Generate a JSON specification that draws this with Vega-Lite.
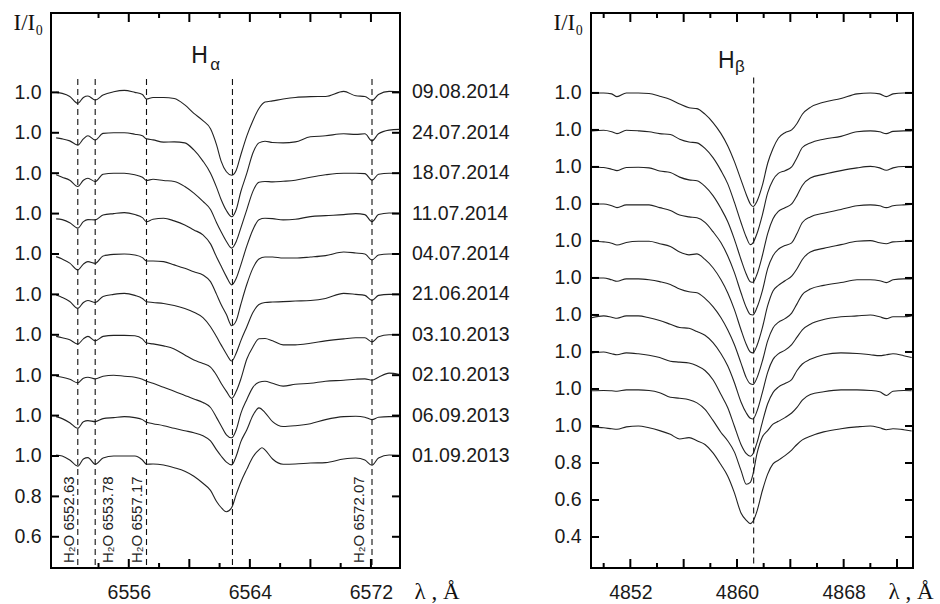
{
  "$schema": "https://vega.github.io/schema/vega-lite/v6.json",
  "background": "white",
  "padding": {"left": 12, "top": 10, "right": 2, "bottom": 2},
  "autosize": {"type": "pad"},
  "spacing": 191,
  "bounds": "flush",
  "datasets": {
    "ha": [
      {"k":9,"w":6551.2,"v":2.8},{"k":9,"w":6551.6,"v":2.795},{"k":9,"w":6552.1,"v":2.78},{"k":9,"w":6552.63,"v":2.746},{"k":9,"w":6553.0,"v":2.775},{"k":9,"w":6553.3,"v":2.782},{"k":9,"w":6553.78,"v":2.762},{"k":9,"w":6554.3,"v":2.787},{"k":9,"w":6555.0,"v":2.803},{"k":9,"w":6555.7,"v":2.81},{"k":9,"w":6556.4,"v":2.8},{"k":9,"w":6556.9,"v":2.79},{"k":9,"w":6557.17,"v":2.767},{"k":9,"w":6557.6,"v":2.775},{"k":9,"w":6558.3,"v":2.775},{"k":9,"w":6559.0,"v":2.77},{"k":9,"w":6559.7,"v":2.738},{"k":9,"w":6560.3,"v":2.696},{"k":9,"w":6560.9,"v":2.66},{"k":9,"w":6561.4,"v":2.62},{"k":9,"w":6561.8,"v":2.54},{"k":9,"w":6562.1,"v":2.46},{"k":9,"w":6562.45,"v":2.407},{"k":9,"w":6562.8,"v":2.39},{"k":9,"w":6563.1,"v":2.415},{"k":9,"w":6563.4,"v":2.49},{"k":9,"w":6563.8,"v":2.585},{"k":9,"w":6564.2,"v":2.66},{"k":9,"w":6564.6,"v":2.72},{"k":9,"w":6565.0,"v":2.752},{"k":9,"w":6565.5,"v":2.758},{"k":9,"w":6566.2,"v":2.767},{"k":9,"w":6567.0,"v":2.775},{"k":9,"w":6568.0,"v":2.779},{"k":9,"w":6569.0,"v":2.78},{"k":9,"w":6570.2,"v":2.805},{"k":9,"w":6571.0,"v":2.783},{"k":9,"w":6571.6,"v":2.78},{"k":9,"w":6572.07,"v":2.76},{"k":9,"w":6572.5,"v":2.79},{"k":9,"w":6573.2,"v":2.805},{"k":9,"w":6573.9,"v":2.803},
      {"k":8,"w":6551.2,"v":2.575},{"k":8,"w":6551.6,"v":2.57},{"k":8,"w":6552.1,"v":2.56},{"k":8,"w":6552.63,"v":2.539},{"k":8,"w":6553.0,"v":2.57},{"k":8,"w":6553.3,"v":2.585},{"k":8,"w":6553.78,"v":2.564},{"k":8,"w":6554.3,"v":2.597},{"k":8,"w":6555.0,"v":2.6},{"k":8,"w":6555.7,"v":2.6},{"k":8,"w":6556.4,"v":2.593},{"k":8,"w":6556.9,"v":2.585},{"k":8,"w":6557.17,"v":2.57},{"k":8,"w":6557.6,"v":2.565},{"k":8,"w":6558.3,"v":2.554},{"k":8,"w":6559.0,"v":2.555},{"k":8,"w":6559.7,"v":2.55},{"k":8,"w":6560.3,"v":2.515},{"k":8,"w":6560.9,"v":2.46},{"k":8,"w":6561.4,"v":2.4},{"k":8,"w":6561.8,"v":2.33},{"k":8,"w":6562.1,"v":2.27},{"k":8,"w":6562.45,"v":2.215},{"k":8,"w":6562.8,"v":2.184},{"k":8,"w":6563.1,"v":2.22},{"k":8,"w":6563.4,"v":2.308},{"k":8,"w":6563.8,"v":2.4},{"k":8,"w":6564.2,"v":2.5},{"k":8,"w":6564.6,"v":2.55},{"k":8,"w":6565.0,"v":2.558},{"k":8,"w":6565.5,"v":2.552},{"k":8,"w":6566.2,"v":2.55},{"k":8,"w":6567.0,"v":2.555},{"k":8,"w":6568.0,"v":2.58},{"k":8,"w":6569.0,"v":2.585},{"k":8,"w":6570.2,"v":2.595},{"k":8,"w":6571.0,"v":2.592},{"k":8,"w":6571.6,"v":2.595},{"k":8,"w":6572.07,"v":2.56},{"k":8,"w":6572.5,"v":2.595},{"k":8,"w":6573.2,"v":2.613},{"k":8,"w":6573.9,"v":2.617},
      {"k":7,"w":6551.2,"v":2.392},{"k":7,"w":6551.6,"v":2.38},{"k":7,"w":6552.1,"v":2.365},{"k":7,"w":6552.63,"v":2.334},{"k":7,"w":6553.0,"v":2.365},{"k":7,"w":6553.3,"v":2.375},{"k":7,"w":6553.78,"v":2.359},{"k":7,"w":6554.3,"v":2.395},{"k":7,"w":6555.0,"v":2.4},{"k":7,"w":6555.7,"v":2.4},{"k":7,"w":6556.4,"v":2.392},{"k":7,"w":6556.9,"v":2.38},{"k":7,"w":6557.17,"v":2.364},{"k":7,"w":6557.6,"v":2.37},{"k":7,"w":6558.3,"v":2.364},{"k":7,"w":6559.0,"v":2.359},{"k":7,"w":6559.7,"v":2.334},{"k":7,"w":6560.3,"v":2.301},{"k":7,"w":6560.9,"v":2.26},{"k":7,"w":6561.4,"v":2.22},{"k":7,"w":6561.8,"v":2.155},{"k":7,"w":6562.1,"v":2.11},{"k":7,"w":6562.45,"v":2.062},{"k":7,"w":6562.8,"v":2.029},{"k":7,"w":6563.1,"v":2.062},{"k":7,"w":6563.4,"v":2.128},{"k":7,"w":6563.8,"v":2.22},{"k":7,"w":6564.2,"v":2.31},{"k":7,"w":6564.6,"v":2.355},{"k":7,"w":6565.0,"v":2.359},{"k":7,"w":6565.5,"v":2.357},{"k":7,"w":6566.2,"v":2.36},{"k":7,"w":6567.0,"v":2.365},{"k":7,"w":6568.0,"v":2.38},{"k":7,"w":6569.0,"v":2.392},{"k":7,"w":6570.2,"v":2.4},{"k":7,"w":6571.0,"v":2.4},{"k":7,"w":6571.6,"v":2.398},{"k":7,"w":6572.07,"v":2.365},{"k":7,"w":6572.5,"v":2.395},{"k":7,"w":6573.2,"v":2.4},{"k":7,"w":6573.9,"v":2.4},
      {"k":6,"w":6551.2,"v":2.174},{"k":6,"w":6551.6,"v":2.17},{"k":6,"w":6552.1,"v":2.155},{"k":6,"w":6552.63,"v":2.128},{"k":6,"w":6553.0,"v":2.16},{"k":6,"w":6553.3,"v":2.17},{"k":6,"w":6553.78,"v":2.169},{"k":6,"w":6554.3,"v":2.193},{"k":6,"w":6555.0,"v":2.2},{"k":6,"w":6555.7,"v":2.205},{"k":6,"w":6556.4,"v":2.195},{"k":6,"w":6556.9,"v":2.18},{"k":6,"w":6557.17,"v":2.16},{"k":6,"w":6557.6,"v":2.172},{"k":6,"w":6558.3,"v":2.177},{"k":6,"w":6559.0,"v":2.164},{"k":6,"w":6559.7,"v":2.144},{"k":6,"w":6560.3,"v":2.119},{"k":6,"w":6560.9,"v":2.095},{"k":6,"w":6561.4,"v":2.05},{"k":6,"w":6561.8,"v":1.985},{"k":6,"w":6562.1,"v":1.94},{"k":6,"w":6562.45,"v":1.888},{"k":6,"w":6562.8,"v":1.847},{"k":6,"w":6563.1,"v":1.88},{"k":6,"w":6563.4,"v":1.945},{"k":6,"w":6563.8,"v":2.04},{"k":6,"w":6564.2,"v":2.12},{"k":6,"w":6564.6,"v":2.17},{"k":6,"w":6565.0,"v":2.177},{"k":6,"w":6565.5,"v":2.175},{"k":6,"w":6566.2,"v":2.169},{"k":6,"w":6567.0,"v":2.172},{"k":6,"w":6568.0,"v":2.185},{"k":6,"w":6569.0,"v":2.19},{"k":6,"w":6570.2,"v":2.195},{"k":6,"w":6571.0,"v":2.2},{"k":6,"w":6571.6,"v":2.195},{"k":6,"w":6572.07,"v":2.16},{"k":6,"w":6572.5,"v":2.195},{"k":6,"w":6573.2,"v":2.203},{"k":6,"w":6573.9,"v":2.202},
      {"k":5,"w":6551.2,"v":1.987},{"k":5,"w":6551.6,"v":1.975},{"k":5,"w":6552.1,"v":1.955},{"k":5,"w":6552.63,"v":1.921},{"k":5,"w":6553.0,"v":1.95},{"k":5,"w":6553.3,"v":1.962},{"k":5,"w":6553.78,"v":1.954},{"k":5,"w":6554.3,"v":1.99},{"k":5,"w":6555.0,"v":1.998},{"k":5,"w":6555.7,"v":2.0},{"k":5,"w":6556.4,"v":1.995},{"k":5,"w":6556.9,"v":1.982},{"k":5,"w":6557.17,"v":1.965},{"k":5,"w":6557.6,"v":1.965},{"k":5,"w":6558.3,"v":1.962},{"k":5,"w":6559.0,"v":1.946},{"k":5,"w":6559.7,"v":1.929},{"k":5,"w":6560.3,"v":1.912},{"k":5,"w":6560.9,"v":1.896},{"k":5,"w":6561.4,"v":1.863},{"k":5,"w":6561.8,"v":1.8},{"k":5,"w":6562.1,"v":1.75},{"k":5,"w":6562.45,"v":1.7},{"k":5,"w":6562.8,"v":1.645},{"k":5,"w":6563.1,"v":1.67},{"k":5,"w":6563.4,"v":1.75},{"k":5,"w":6563.8,"v":1.85},{"k":5,"w":6564.2,"v":1.93},{"k":5,"w":6564.6,"v":1.975},{"k":5,"w":6565.0,"v":1.985},{"k":5,"w":6565.5,"v":1.985},{"k":5,"w":6566.2,"v":1.98},{"k":5,"w":6567.0,"v":1.98},{"k":5,"w":6568.0,"v":1.985},{"k":5,"w":6569.0,"v":1.992},{"k":5,"w":6570.2,"v":2.01},{"k":5,"w":6571.0,"v":2.005},{"k":5,"w":6571.6,"v":2.0},{"k":5,"w":6572.07,"v":1.97},{"k":5,"w":6572.5,"v":1.995},{"k":5,"w":6573.2,"v":2.0},{"k":5,"w":6573.9,"v":2.0},
      {"k":4,"w":6551.2,"v":1.797},{"k":4,"w":6551.6,"v":1.785},{"k":4,"w":6552.1,"v":1.765},{"k":4,"w":6552.63,"v":1.731},{"k":4,"w":6553.0,"v":1.76},{"k":4,"w":6553.3,"v":1.77},{"k":4,"w":6553.78,"v":1.76},{"k":4,"w":6554.3,"v":1.79},{"k":4,"w":6555.0,"v":1.8},{"k":4,"w":6555.7,"v":1.805},{"k":4,"w":6556.4,"v":1.795},{"k":4,"w":6556.9,"v":1.78},{"k":4,"w":6557.17,"v":1.764},{"k":4,"w":6557.6,"v":1.76},{"k":4,"w":6558.3,"v":1.755},{"k":4,"w":6559.0,"v":1.745},{"k":4,"w":6559.7,"v":1.73},{"k":4,"w":6560.3,"v":1.712},{"k":4,"w":6560.9,"v":1.685},{"k":4,"w":6561.4,"v":1.64},{"k":4,"w":6561.8,"v":1.59},{"k":4,"w":6562.1,"v":1.55},{"k":4,"w":6562.45,"v":1.505},{"k":4,"w":6562.8,"v":1.47},{"k":4,"w":6563.1,"v":1.51},{"k":4,"w":6563.4,"v":1.57},{"k":4,"w":6563.8,"v":1.64},{"k":4,"w":6564.2,"v":1.71},{"k":4,"w":6564.6,"v":1.75},{"k":4,"w":6565.0,"v":1.76},{"k":4,"w":6565.5,"v":1.762},{"k":4,"w":6566.2,"v":1.764},{"k":4,"w":6567.0,"v":1.767},{"k":4,"w":6568.0,"v":1.77},{"k":4,"w":6569.0,"v":1.78},{"k":4,"w":6570.2,"v":1.805},{"k":4,"w":6571.0,"v":1.8},{"k":4,"w":6571.6,"v":1.795},{"k":4,"w":6572.07,"v":1.77},{"k":4,"w":6572.5,"v":1.795},{"k":4,"w":6573.2,"v":1.8},{"k":4,"w":6573.9,"v":1.8},
      {"k":3,"w":6551.2,"v":1.592},{"k":3,"w":6551.6,"v":1.585},{"k":3,"w":6552.1,"v":1.575},{"k":3,"w":6552.63,"v":1.554},{"k":3,"w":6553.0,"v":1.58},{"k":3,"w":6553.3,"v":1.592},{"k":3,"w":6553.78,"v":1.57},{"k":3,"w":6554.3,"v":1.592},{"k":3,"w":6555.0,"v":1.597},{"k":3,"w":6555.7,"v":1.597},{"k":3,"w":6556.4,"v":1.595},{"k":3,"w":6556.9,"v":1.58},{"k":3,"w":6557.17,"v":1.559},{"k":3,"w":6557.6,"v":1.555},{"k":3,"w":6558.3,"v":1.545},{"k":3,"w":6559.0,"v":1.53},{"k":3,"w":6559.7,"v":1.5},{"k":3,"w":6560.3,"v":1.475},{"k":3,"w":6560.9,"v":1.458},{"k":3,"w":6561.4,"v":1.44},{"k":3,"w":6561.8,"v":1.4},{"k":3,"w":6562.1,"v":1.36},{"k":3,"w":6562.45,"v":1.32},{"k":3,"w":6562.8,"v":1.285},{"k":3,"w":6563.1,"v":1.32},{"k":3,"w":6563.4,"v":1.38},{"k":3,"w":6563.8,"v":1.48},{"k":3,"w":6564.2,"v":1.54},{"k":3,"w":6564.6,"v":1.58},{"k":3,"w":6565.0,"v":1.582},{"k":3,"w":6565.5,"v":1.57},{"k":3,"w":6566.2,"v":1.55},{"k":3,"w":6567.0,"v":1.55},{"k":3,"w":6568.0,"v":1.558},{"k":3,"w":6569.0,"v":1.57},{"k":3,"w":6570.2,"v":1.58},{"k":3,"w":6571.0,"v":1.585},{"k":3,"w":6571.6,"v":1.585},{"k":3,"w":6572.07,"v":1.565},{"k":3,"w":6572.5,"v":1.59},{"k":3,"w":6573.2,"v":1.6},{"k":3,"w":6573.9,"v":1.6},
      {"k":2,"w":6551.2,"v":1.395},{"k":2,"w":6551.6,"v":1.39},{"k":2,"w":6552.1,"v":1.38},{"k":2,"w":6552.63,"v":1.362},{"k":2,"w":6553.0,"v":1.385},{"k":2,"w":6553.3,"v":1.39},{"k":2,"w":6553.78,"v":1.382},{"k":2,"w":6554.3,"v":1.395},{"k":2,"w":6555.0,"v":1.4},{"k":2,"w":6555.7,"v":1.395},{"k":2,"w":6556.4,"v":1.39},{"k":2,"w":6556.9,"v":1.38},{"k":2,"w":6557.17,"v":1.37},{"k":2,"w":6557.6,"v":1.36},{"k":2,"w":6558.3,"v":1.34},{"k":2,"w":6559.0,"v":1.321},{"k":2,"w":6559.7,"v":1.3},{"k":2,"w":6560.3,"v":1.282},{"k":2,"w":6560.9,"v":1.265},{"k":2,"w":6561.4,"v":1.24},{"k":2,"w":6561.8,"v":1.19},{"k":2,"w":6562.1,"v":1.15},{"k":2,"w":6562.45,"v":1.105},{"k":2,"w":6562.8,"v":1.09},{"k":2,"w":6563.1,"v":1.13},{"k":2,"w":6563.4,"v":1.21},{"k":2,"w":6563.8,"v":1.28},{"k":2,"w":6564.2,"v":1.34},{"k":2,"w":6564.6,"v":1.365},{"k":2,"w":6565.0,"v":1.37},{"k":2,"w":6565.5,"v":1.36},{"k":2,"w":6566.2,"v":1.346},{"k":2,"w":6567.0,"v":1.355},{"k":2,"w":6568.0,"v":1.36},{"k":2,"w":6569.0,"v":1.37},{"k":2,"w":6570.2,"v":1.375},{"k":2,"w":6571.0,"v":1.38},{"k":2,"w":6571.6,"v":1.382},{"k":2,"w":6572.07,"v":1.375},{"k":2,"w":6572.5,"v":1.39},{"k":2,"w":6573.2,"v":1.41},{"k":2,"w":6573.9,"v":1.403},
      {"k":1,"w":6551.2,"v":1.195},{"k":1,"w":6551.6,"v":1.185},{"k":1,"w":6552.1,"v":1.165},{"k":1,"w":6552.63,"v":1.137},{"k":1,"w":6553.0,"v":1.17},{"k":1,"w":6553.3,"v":1.175},{"k":1,"w":6553.78,"v":1.17},{"k":1,"w":6554.3,"v":1.185},{"k":1,"w":6555.0,"v":1.19},{"k":1,"w":6555.7,"v":1.195},{"k":1,"w":6556.4,"v":1.19},{"k":1,"w":6556.9,"v":1.18},{"k":1,"w":6557.17,"v":1.167},{"k":1,"w":6557.6,"v":1.16},{"k":1,"w":6558.3,"v":1.15},{"k":1,"w":6559.0,"v":1.137},{"k":1,"w":6559.7,"v":1.125},{"k":1,"w":6560.3,"v":1.115},{"k":1,"w":6560.9,"v":1.1},{"k":1,"w":6561.4,"v":1.075},{"k":1,"w":6561.8,"v":1.03},{"k":1,"w":6562.1,"v":1.0},{"k":1,"w":6562.45,"v":0.97},{"k":1,"w":6562.8,"v":0.956},{"k":1,"w":6563.1,"v":1.0},{"k":1,"w":6563.4,"v":1.07},{"k":1,"w":6563.8,"v":1.13},{"k":1,"w":6564.2,"v":1.2},{"k":1,"w":6564.6,"v":1.238},{"k":1,"w":6565.0,"v":1.215},{"k":1,"w":6565.5,"v":1.17},{"k":1,"w":6566.2,"v":1.146},{"k":1,"w":6567.0,"v":1.15},{"k":1,"w":6568.0,"v":1.16},{"k":1,"w":6569.0,"v":1.18},{"k":1,"w":6570.2,"v":1.195},{"k":1,"w":6571.0,"v":1.197},{"k":1,"w":6571.6,"v":1.192},{"k":1,"w":6572.07,"v":1.18},{"k":1,"w":6572.5,"v":1.192},{"k":1,"w":6573.2,"v":1.195},{"k":1,"w":6573.9,"v":1.195},
      {"k":0,"w":6551.2,"v":1.005},{"k":0,"w":6551.6,"v":1.0},{"k":0,"w":6552.1,"v":0.98},{"k":0,"w":6552.63,"v":0.95},{"k":0,"w":6553.0,"v":0.985},{"k":0,"w":6553.3,"v":0.992},{"k":0,"w":6553.78,"v":0.959},{"k":0,"w":6554.3,"v":0.99},{"k":0,"w":6555.0,"v":1.0},{"k":0,"w":6555.7,"v":1.0},{"k":0,"w":6556.4,"v":1.0},{"k":0,"w":6556.9,"v":0.98},{"k":0,"w":6557.17,"v":0.959},{"k":0,"w":6557.6,"v":0.96},{"k":0,"w":6558.3,"v":0.955},{"k":0,"w":6559.0,"v":0.942},{"k":0,"w":6559.7,"v":0.925},{"k":0,"w":6560.3,"v":0.9},{"k":0,"w":6560.9,"v":0.865},{"k":0,"w":6561.4,"v":0.83},{"k":0,"w":6561.8,"v":0.775},{"k":0,"w":6562.1,"v":0.745},{"k":0,"w":6562.45,"v":0.724},{"k":0,"w":6562.8,"v":0.745},{"k":0,"w":6563.1,"v":0.81},{"k":0,"w":6563.4,"v":0.87},{"k":0,"w":6563.8,"v":0.935},{"k":0,"w":6564.2,"v":0.995},{"k":0,"w":6564.6,"v":1.03},{"k":0,"w":6564.8,"v":1.041},{"k":0,"w":6565.0,"v":1.03},{"k":0,"w":6565.5,"v":0.985},{"k":0,"w":6566.2,"v":0.959},{"k":0,"w":6567.0,"v":0.96},{"k":0,"w":6568.0,"v":0.965},{"k":0,"w":6569.0,"v":0.967},{"k":0,"w":6570.2,"v":0.985},{"k":0,"w":6571.0,"v":0.99},{"k":0,"w":6571.6,"v":0.98},{"k":0,"w":6572.07,"v":0.954},{"k":0,"w":6572.5,"v":0.99},{"k":0,"w":6573.2,"v":1.005},{"k":0,"w":6573.9,"v":1.003}
    ],
    "hb": [
      {"k":9,"w":4849.1,"v":2.8},{"k":9,"w":4850.0,"v":2.8},{"k":9,"w":4850.6,"v":2.795},{"k":9,"w":4851.0,"v":2.78},{"k":9,"w":4851.7,"v":2.8},{"k":9,"w":4852.6,"v":2.8},{"k":9,"w":4853.4,"v":2.797},{"k":9,"w":4854.2,"v":2.782},{"k":9,"w":4855.0,"v":2.765},{"k":9,"w":4855.7,"v":2.74},{"k":9,"w":4856.4,"v":2.72},{"k":9,"w":4857.0,"v":2.715},{"k":9,"w":4857.6,"v":2.685},{"k":9,"w":4858.2,"v":2.64},{"k":9,"w":4858.8,"v":2.58},{"k":9,"w":4859.3,"v":2.515},{"k":9,"w":4859.8,"v":2.43},{"k":9,"w":4860.3,"v":2.33},{"k":9,"w":4860.7,"v":2.25},{"k":9,"w":4861.0,"v":2.2},{"k":9,"w":4861.2,"v":2.186},{"k":9,"w":4861.5,"v":2.215},{"k":9,"w":4861.9,"v":2.3},{"k":9,"w":4862.3,"v":2.42},{"k":9,"w":4862.7,"v":2.5},{"k":9,"w":4863.1,"v":2.555},{"k":9,"w":4863.6,"v":2.585},{"k":9,"w":4864.1,"v":2.6},{"k":9,"w":4864.5,"v":2.635},{"k":9,"w":4864.9,"v":2.685},{"k":9,"w":4865.5,"v":2.722},{"k":9,"w":4866.5,"v":2.75},{"k":9,"w":4867.8,"v":2.77},{"k":9,"w":4869.0,"v":2.795},{"k":9,"w":4870.0,"v":2.8},{"k":9,"w":4870.7,"v":2.795},{"k":9,"w":4871.2,"v":2.78},{"k":9,"w":4871.7,"v":2.795},{"k":9,"w":4872.5,"v":2.8},{"k":9,"w":4873.1,"v":2.8},
      {"k":8,"w":4849.1,"v":2.595},{"k":8,"w":4850.0,"v":2.598},{"k":8,"w":4850.6,"v":2.59},{"k":8,"w":4851.0,"v":2.58},{"k":8,"w":4851.7,"v":2.598},{"k":8,"w":4852.6,"v":2.595},{"k":8,"w":4853.4,"v":2.59},{"k":8,"w":4854.2,"v":2.58},{"k":8,"w":4855.0,"v":2.575},{"k":8,"w":4855.7,"v":2.55},{"k":8,"w":4856.4,"v":2.535},{"k":8,"w":4857.0,"v":2.53},{"k":8,"w":4857.6,"v":2.5},{"k":8,"w":4858.2,"v":2.45},{"k":8,"w":4858.8,"v":2.38},{"k":8,"w":4859.3,"v":2.31},{"k":8,"w":4859.8,"v":2.21},{"k":8,"w":4860.3,"v":2.1},{"k":8,"w":4860.7,"v":2.02},{"k":8,"w":4861.0,"v":1.98},{"k":8,"w":4861.2,"v":1.99},{"k":8,"w":4861.5,"v":2.04},{"k":8,"w":4861.9,"v":2.14},{"k":8,"w":4862.3,"v":2.26},{"k":8,"w":4862.7,"v":2.33},{"k":8,"w":4863.1,"v":2.365},{"k":8,"w":4863.6,"v":2.38},{"k":8,"w":4864.1,"v":2.4},{"k":8,"w":4864.5,"v":2.45},{"k":8,"w":4864.9,"v":2.505},{"k":8,"w":4865.5,"v":2.53},{"k":8,"w":4866.5,"v":2.55},{"k":8,"w":4867.8,"v":2.565},{"k":8,"w":4869.0,"v":2.59},{"k":8,"w":4870.0,"v":2.595},{"k":8,"w":4870.7,"v":2.59},{"k":8,"w":4871.2,"v":2.58},{"k":8,"w":4871.7,"v":2.592},{"k":8,"w":4872.5,"v":2.595},{"k":8,"w":4873.1,"v":2.595},
      {"k":7,"w":4849.1,"v":2.4},{"k":7,"w":4850.0,"v":2.397},{"k":7,"w":4850.6,"v":2.388},{"k":7,"w":4851.0,"v":2.38},{"k":7,"w":4851.7,"v":2.397},{"k":7,"w":4852.6,"v":2.398},{"k":7,"w":4853.4,"v":2.395},{"k":7,"w":4854.2,"v":2.378},{"k":7,"w":4855.0,"v":2.37},{"k":7,"w":4855.7,"v":2.345},{"k":7,"w":4856.4,"v":2.33},{"k":7,"w":4857.0,"v":2.325},{"k":7,"w":4857.6,"v":2.295},{"k":7,"w":4858.2,"v":2.245},{"k":7,"w":4858.8,"v":2.175},{"k":7,"w":4859.3,"v":2.105},{"k":7,"w":4859.8,"v":2.01},{"k":7,"w":4860.3,"v":1.9},{"k":7,"w":4860.7,"v":1.82},{"k":7,"w":4861.0,"v":1.78},{"k":7,"w":4861.2,"v":1.777},{"k":7,"w":4861.5,"v":1.82},{"k":7,"w":4861.9,"v":1.92},{"k":7,"w":4862.3,"v":2.04},{"k":7,"w":4862.7,"v":2.12},{"k":7,"w":4863.1,"v":2.16},{"k":7,"w":4863.6,"v":2.18},{"k":7,"w":4864.1,"v":2.2},{"k":7,"w":4864.5,"v":2.245},{"k":7,"w":4864.9,"v":2.3},{"k":7,"w":4865.5,"v":2.34},{"k":7,"w":4866.5,"v":2.36},{"k":7,"w":4867.8,"v":2.38},{"k":7,"w":4869.0,"v":2.395},{"k":7,"w":4870.0,"v":2.403},{"k":7,"w":4870.7,"v":2.395},{"k":7,"w":4871.2,"v":2.382},{"k":7,"w":4871.7,"v":2.395},{"k":7,"w":4872.5,"v":2.402},{"k":7,"w":4873.1,"v":2.4},
      {"k":6,"w":4849.1,"v":2.2},{"k":6,"w":4850.0,"v":2.2},{"k":6,"w":4850.6,"v":2.19},{"k":6,"w":4851.0,"v":2.18},{"k":6,"w":4851.7,"v":2.195},{"k":6,"w":4852.6,"v":2.195},{"k":6,"w":4853.4,"v":2.195},{"k":6,"w":4854.2,"v":2.18},{"k":6,"w":4855.0,"v":2.165},{"k":6,"w":4855.7,"v":2.14},{"k":6,"w":4856.4,"v":2.13},{"k":6,"w":4857.0,"v":2.125},{"k":6,"w":4857.6,"v":2.1},{"k":6,"w":4858.2,"v":2.05},{"k":6,"w":4858.8,"v":1.99},{"k":6,"w":4859.3,"v":1.92},{"k":6,"w":4859.8,"v":1.83},{"k":6,"w":4860.3,"v":1.72},{"k":6,"w":4860.7,"v":1.64},{"k":6,"w":4861.0,"v":1.602},{"k":6,"w":4861.2,"v":1.6},{"k":6,"w":4861.5,"v":1.64},{"k":6,"w":4861.9,"v":1.73},{"k":6,"w":4862.3,"v":1.85},{"k":6,"w":4862.7,"v":1.92},{"k":6,"w":4863.1,"v":1.955},{"k":6,"w":4863.6,"v":1.975},{"k":6,"w":4864.1,"v":1.99},{"k":6,"w":4864.5,"v":2.04},{"k":6,"w":4864.9,"v":2.1},{"k":6,"w":4865.5,"v":2.13},{"k":6,"w":4866.5,"v":2.15},{"k":6,"w":4867.8,"v":2.17},{"k":6,"w":4869.0,"v":2.19},{"k":6,"w":4870.0,"v":2.195},{"k":6,"w":4870.7,"v":2.19},{"k":6,"w":4871.2,"v":2.18},{"k":6,"w":4871.7,"v":2.19},{"k":6,"w":4872.5,"v":2.195},{"k":6,"w":4873.1,"v":2.197},
      {"k":5,"w":4849.1,"v":2.0},{"k":5,"w":4850.0,"v":1.995},{"k":5,"w":4850.6,"v":1.988},{"k":5,"w":4851.0,"v":1.978},{"k":5,"w":4851.7,"v":1.992},{"k":5,"w":4852.6,"v":1.998},{"k":5,"w":4853.4,"v":1.998},{"k":5,"w":4854.2,"v":1.985},{"k":5,"w":4855.0,"v":1.97},{"k":5,"w":4855.7,"v":1.94},{"k":5,"w":4856.4,"v":1.925},{"k":5,"w":4857.0,"v":1.93},{"k":5,"w":4857.6,"v":1.9},{"k":5,"w":4858.2,"v":1.855},{"k":5,"w":4858.8,"v":1.79},{"k":5,"w":4859.3,"v":1.72},{"k":5,"w":4859.8,"v":1.63},{"k":5,"w":4860.3,"v":1.52},{"k":5,"w":4860.7,"v":1.44},{"k":5,"w":4861.0,"v":1.4},{"k":5,"w":4861.2,"v":1.395},{"k":5,"w":4861.5,"v":1.435},{"k":5,"w":4861.9,"v":1.53},{"k":5,"w":4862.3,"v":1.65},{"k":5,"w":4862.7,"v":1.73},{"k":5,"w":4863.1,"v":1.76},{"k":5,"w":4863.6,"v":1.785},{"k":5,"w":4864.1,"v":1.81},{"k":5,"w":4864.5,"v":1.85},{"k":5,"w":4864.9,"v":1.9},{"k":5,"w":4865.5,"v":1.94},{"k":5,"w":4866.5,"v":1.96},{"k":5,"w":4867.8,"v":1.98},{"k":5,"w":4869.0,"v":1.998},{"k":5,"w":4870.0,"v":2.002},{"k":5,"w":4870.7,"v":1.99},{"k":5,"w":4871.2,"v":1.985},{"k":5,"w":4871.7,"v":1.995},{"k":5,"w":4872.5,"v":1.998},{"k":5,"w":4873.1,"v":2.0},
      {"k":4,"w":4849.1,"v":1.8},{"k":4,"w":4850.0,"v":1.8},{"k":4,"w":4850.6,"v":1.79},{"k":4,"w":4851.0,"v":1.782},{"k":4,"w":4851.7,"v":1.795},{"k":4,"w":4852.6,"v":1.795},{"k":4,"w":4853.4,"v":1.79},{"k":4,"w":4854.2,"v":1.78},{"k":4,"w":4855.0,"v":1.765},{"k":4,"w":4855.7,"v":1.74},{"k":4,"w":4856.4,"v":1.725},{"k":4,"w":4857.0,"v":1.72},{"k":4,"w":4857.6,"v":1.69},{"k":4,"w":4858.2,"v":1.645},{"k":4,"w":4858.8,"v":1.585},{"k":4,"w":4859.3,"v":1.52},{"k":4,"w":4859.8,"v":1.44},{"k":4,"w":4860.3,"v":1.34},{"k":4,"w":4860.7,"v":1.26},{"k":4,"w":4861.0,"v":1.228},{"k":4,"w":4861.2,"v":1.224},{"k":4,"w":4861.5,"v":1.26},{"k":4,"w":4861.9,"v":1.35},{"k":4,"w":4862.3,"v":1.46},{"k":4,"w":4862.7,"v":1.53},{"k":4,"w":4863.1,"v":1.56},{"k":4,"w":4863.6,"v":1.58},{"k":4,"w":4864.1,"v":1.61},{"k":4,"w":4864.5,"v":1.66},{"k":4,"w":4864.9,"v":1.71},{"k":4,"w":4865.5,"v":1.74},{"k":4,"w":4866.5,"v":1.76},{"k":4,"w":4867.8,"v":1.775},{"k":4,"w":4869.0,"v":1.79},{"k":4,"w":4870.0,"v":1.79},{"k":4,"w":4870.7,"v":1.785},{"k":4,"w":4871.2,"v":1.775},{"k":4,"w":4871.7,"v":1.79},{"k":4,"w":4872.5,"v":1.795},{"k":4,"w":4873.1,"v":1.795},
      {"k":3,"w":4849.1,"v":1.585},{"k":3,"w":4850.0,"v":1.595},{"k":3,"w":4850.6,"v":1.588},{"k":3,"w":4851.0,"v":1.582},{"k":3,"w":4851.7,"v":1.595},{"k":3,"w":4852.6,"v":1.595},{"k":3,"w":4853.4,"v":1.585},{"k":3,"w":4854.2,"v":1.57},{"k":3,"w":4855.0,"v":1.55},{"k":3,"w":4855.7,"v":1.532},{"k":3,"w":4856.4,"v":1.528},{"k":3,"w":4857.0,"v":1.51},{"k":3,"w":4857.6,"v":1.49},{"k":3,"w":4858.2,"v":1.45},{"k":3,"w":4858.8,"v":1.39},{"k":3,"w":4859.3,"v":1.325},{"k":3,"w":4859.8,"v":1.235},{"k":3,"w":4860.3,"v":1.13},{"k":3,"w":4860.7,"v":1.07},{"k":3,"w":4861.0,"v":1.042},{"k":3,"w":4861.2,"v":1.038},{"k":3,"w":4861.5,"v":1.08},{"k":3,"w":4861.9,"v":1.18},{"k":3,"w":4862.3,"v":1.29},{"k":3,"w":4862.7,"v":1.36},{"k":3,"w":4863.1,"v":1.39},{"k":3,"w":4863.6,"v":1.41},{"k":3,"w":4864.1,"v":1.44},{"k":3,"w":4864.5,"v":1.48},{"k":3,"w":4864.9,"v":1.52},{"k":3,"w":4865.5,"v":1.55},{"k":3,"w":4866.5,"v":1.575},{"k":3,"w":4867.8,"v":1.59},{"k":3,"w":4869.0,"v":1.595},{"k":3,"w":4870.0,"v":1.6},{"k":3,"w":4870.7,"v":1.59},{"k":3,"w":4871.2,"v":1.58},{"k":3,"w":4871.7,"v":1.59},{"k":3,"w":4872.5,"v":1.59},{"k":3,"w":4873.1,"v":1.595},
      {"k":2,"w":4849.1,"v":1.395},{"k":2,"w":4850.0,"v":1.4},{"k":2,"w":4850.6,"v":1.39},{"k":2,"w":4851.0,"v":1.385},{"k":2,"w":4851.7,"v":1.395},{"k":2,"w":4852.6,"v":1.39},{"k":2,"w":4853.4,"v":1.382},{"k":2,"w":4854.2,"v":1.37},{"k":2,"w":4855.0,"v":1.35},{"k":2,"w":4855.7,"v":1.345},{"k":2,"w":4856.4,"v":1.34},{"k":2,"w":4857.0,"v":1.325},{"k":2,"w":4857.6,"v":1.3},{"k":2,"w":4858.2,"v":1.25},{"k":2,"w":4858.8,"v":1.17},{"k":2,"w":4859.3,"v":1.1},{"k":2,"w":4859.8,"v":1.0},{"k":2,"w":4860.3,"v":0.9},{"k":2,"w":4860.7,"v":0.85},{"k":2,"w":4861.0,"v":0.836},{"k":2,"w":4861.2,"v":0.85},{"k":2,"w":4861.5,"v":0.91},{"k":2,"w":4861.9,"v":1.02},{"k":2,"w":4862.3,"v":1.12},{"k":2,"w":4862.7,"v":1.18},{"k":2,"w":4863.1,"v":1.21},{"k":2,"w":4863.6,"v":1.23},{"k":2,"w":4864.1,"v":1.25},{"k":2,"w":4864.5,"v":1.3},{"k":2,"w":4864.9,"v":1.335},{"k":2,"w":4865.5,"v":1.36},{"k":2,"w":4866.5,"v":1.385},{"k":2,"w":4867.8,"v":1.395},{"k":2,"w":4869.0,"v":1.392},{"k":2,"w":4870.0,"v":1.385},{"k":2,"w":4870.7,"v":1.38},{"k":2,"w":4871.2,"v":1.385},{"k":2,"w":4871.7,"v":1.39},{"k":2,"w":4872.5,"v":1.38},{"k":2,"w":4873.1,"v":1.37},
      {"k":1,"w":4849.1,"v":1.19},{"k":1,"w":4850.0,"v":1.192},{"k":1,"w":4850.6,"v":1.19},{"k":1,"w":4851.0,"v":1.188},{"k":1,"w":4851.7,"v":1.195},{"k":1,"w":4852.6,"v":1.195},{"k":1,"w":4853.4,"v":1.192},{"k":1,"w":4854.2,"v":1.18},{"k":1,"w":4855.0,"v":1.155},{"k":1,"w":4855.7,"v":1.15},{"k":1,"w":4856.4,"v":1.142},{"k":1,"w":4857.0,"v":1.125},{"k":1,"w":4857.6,"v":1.09},{"k":1,"w":4858.2,"v":1.03},{"k":1,"w":4858.8,"v":0.965},{"k":1,"w":4859.3,"v":0.92},{"k":1,"w":4859.8,"v":0.86},{"k":1,"w":4860.3,"v":0.76},{"k":1,"w":4860.7,"v":0.685},{"k":1,"w":4861.0,"v":0.695},{"k":1,"w":4861.2,"v":0.74},{"k":1,"w":4861.5,"v":0.85},{"k":1,"w":4861.9,"v":0.94},{"k":1,"w":4862.3,"v":0.975},{"k":1,"w":4862.7,"v":1.01},{"k":1,"w":4863.1,"v":1.025},{"k":1,"w":4863.6,"v":1.045},{"k":1,"w":4864.1,"v":1.07},{"k":1,"w":4864.5,"v":1.1},{"k":1,"w":4864.9,"v":1.14},{"k":1,"w":4865.5,"v":1.17},{"k":1,"w":4866.5,"v":1.185},{"k":1,"w":4867.8,"v":1.195},{"k":1,"w":4869.0,"v":1.195},{"k":1,"w":4870.0,"v":1.192},{"k":1,"w":4870.7,"v":1.185},{"k":1,"w":4871.2,"v":1.165},{"k":1,"w":4871.7,"v":1.188},{"k":1,"w":4872.5,"v":1.192},{"k":1,"w":4873.1,"v":1.19},
      {"k":0,"w":4849.1,"v":0.995},{"k":0,"w":4850.0,"v":0.99},{"k":0,"w":4850.6,"v":0.985},{"k":0,"w":4851.0,"v":0.982},{"k":0,"w":4851.7,"v":0.995},{"k":0,"w":4852.6,"v":1.0},{"k":0,"w":4853.4,"v":0.99},{"k":0,"w":4854.2,"v":0.975},{"k":0,"w":4855.0,"v":0.955},{"k":0,"w":4855.7,"v":0.93},{"k":0,"w":4856.4,"v":0.937},{"k":0,"w":4857.0,"v":0.92},{"k":0,"w":4857.6,"v":0.9},{"k":0,"w":4858.2,"v":0.855},{"k":0,"w":4858.8,"v":0.79},{"k":0,"w":4859.3,"v":0.73},{"k":0,"w":4859.8,"v":0.64},{"k":0,"w":4860.3,"v":0.53},{"k":0,"w":4860.7,"v":0.49},{"k":0,"w":4861.0,"v":0.472},{"k":0,"w":4861.2,"v":0.485},{"k":0,"w":4861.5,"v":0.54},{"k":0,"w":4861.9,"v":0.65},{"k":0,"w":4862.3,"v":0.74},{"k":0,"w":4862.7,"v":0.795},{"k":0,"w":4863.1,"v":0.815},{"k":0,"w":4863.6,"v":0.84},{"k":0,"w":4864.1,"v":0.87},{"k":0,"w":4864.5,"v":0.9},{"k":0,"w":4864.9,"v":0.925},{"k":0,"w":4865.5,"v":0.945},{"k":0,"w":4866.5,"v":0.968},{"k":0,"w":4867.8,"v":0.985},{"k":0,"w":4869.0,"v":0.995},{"k":0,"w":4870.0,"v":1.0},{"k":0,"w":4870.7,"v":0.99},{"k":0,"w":4871.2,"v":0.98},{"k":0,"w":4871.7,"v":0.985},{"k":0,"w":4872.5,"v":0.98},{"k":0,"w":4873.1,"v":0.973}
    ],
    "halines": [{"w":6552.63},{"w":6553.78},{"w":6557.17},{"w":6562.85},{"w":6572.07}],
    "hblines": [{"w":4861.25}],
    "hamaj": [{"w":6556},{"w":6560},{"w":6564},{"w":6568},{"w":6572}],
    "hamin": [{"w":6554},{"w":6558},{"w":6562},{"w":6566},{"w":6570}],
    "hay": [{"v":0.6},{"v":0.8},{"v":1.0},{"v":1.2},{"v":1.4},{"v":1.6},{"v":1.8},{"v":2.0},{"v":2.2},{"v":2.4},{"v":2.6},{"v":2.8}],
    "hbmaj": [{"w":4852},{"w":4856},{"w":4860},{"w":4864},{"w":4868},{"w":4872}],
    "hbmin": [{"w":4850},{"w":4854},{"w":4858},{"w":4862},{"w":4866},{"w":4870}],
    "hby": [{"v":0.4},{"v":0.6},{"v":0.8},{"v":1.0},{"v":1.2},{"v":1.4},{"v":1.6},{"v":1.8},{"v":2.0},{"v":2.2},{"v":2.4},{"v":2.6},{"v":2.8}],
    "dates": [
      {"d":"09.08.2014","v":2.8},{"d":"24.07.2014","v":2.6},{"d":"18.07.2014","v":2.4},{"d":"11.07.2014","v":2.2},{"d":"04.07.2014","v":2.0},
      {"d":"21.06.2014","v":1.8},{"d":"03.10.2013","v":1.6},{"d":"02.10.2013","v":1.4},{"d":"06.09.2013","v":1.2},{"d":"01.09.2013","v":1.0}
    ]
  },
  "hconcat": [
    {
      "width": 349,
      "height": 555,
      "layer": [
        {
          "data": {"name": "ha"},
          "mark": {"type": "line", "color": "#222", "strokeWidth": 1.1, "interpolate": "monotone", "clip": true},
          "encoding": {
            "x": {
              "field": "w", "type": "quantitative",
              "scale": {"domain": [6550.86, 6573.92], "nice": false, "zero": false},
              "axis": {
                "orient": "bottom",
                "values": [6556, 6564, 6572],
                "format": "d",
                "labelPadding": 15,
                "title": "λ , Å",
                "titleX": 363, "titleY": 30, "titleAlign": "left", "titleBaseline": "alphabetic", "titleAngle": 0
              }
            },
            "y": {
              "field": "v", "type": "quantitative",
              "scale": {"domain": [0.4455, 3.193], "nice": false, "zero": false},
              "axis": {
                "orient": "left",
                "values": [0.6, 0.8, 1, 1.2, 1.4, 1.6, 1.8, 2, 2.2, 2.4, 2.6, 2.8],
                "labelExpr": "datum.value > 0.95 ? '1.0' : format(datum.value, '.1f')",
                "labelPadding": 10,
                "title": "I/I₀",
                "titleX": -38, "titleY": 16, "titleAlign": "left", "titleBaseline": "alphabetic", "titleAngle": 0
              }
            },
            "detail": {"field": "k", "type": "nominal"}
          }
        },
        {
          "data": {"name": "halines"},
          "mark": {"type": "rule", "color": "#111", "strokeWidth": 1.1, "strokeDash": [6, 4]},
          "encoding": {
            "x": {"field": "w", "type": "quantitative", "axis": null},
            "y": {"datum": 2.866, "type": "quantitative", "axis": null},
            "y2": {"datum": 0.4455}
          }
        },
        {
          "data": {"name": "hamaj"},
          "mark": {"type": "rule", "color": "#000", "strokeWidth": 2},
          "encoding": {
            "x": {"field": "w", "type": "quantitative", "axis": null},
            "y": {"datum": 0.4455, "type": "quantitative", "axis": null},
            "y2": {"datum": 0.4901}
          }
        },
        {
          "data": {"name": "hamaj"},
          "mark": {"type": "rule", "color": "#000", "strokeWidth": 2},
          "encoding": {
            "x": {"field": "w", "type": "quantitative", "axis": null},
            "y": {"datum": 3.193, "type": "quantitative", "axis": null},
            "y2": {"datum": 3.1484}
          }
        },
        {
          "data": {"name": "hamin"},
          "mark": {"type": "rule", "color": "#000", "strokeWidth": 2},
          "encoding": {
            "x": {"field": "w", "type": "quantitative", "axis": null},
            "y": {"datum": 0.4455, "type": "quantitative", "axis": null},
            "y2": {"datum": 0.4703}
          }
        },
        {
          "data": {"name": "hamin"},
          "mark": {"type": "rule", "color": "#000", "strokeWidth": 2},
          "encoding": {
            "x": {"field": "w", "type": "quantitative", "axis": null},
            "y": {"datum": 3.193, "type": "quantitative", "axis": null},
            "y2": {"datum": 3.1682}
          }
        },
        {
          "data": {"name": "hay"},
          "mark": {"type": "rule", "color": "#000", "strokeWidth": 2},
          "encoding": {
            "y": {"field": "v", "type": "quantitative", "axis": null},
            "x": {"datum": 6550.86, "type": "quantitative", "axis": null},
            "x2": {"datum": 6551.39}
          }
        },
        {
          "data": {"name": "hay"},
          "mark": {"type": "rule", "color": "#000", "strokeWidth": 2},
          "encoding": {
            "y": {"field": "v", "type": "quantitative", "axis": null},
            "x": {"datum": 6573.92, "type": "quantitative", "axis": null},
            "x2": {"datum": 6573.39}
          }
        },
        {
          "data": {"values": [{"w": 6552.63, "t": "H₂O 6552.63"}, {"w": 6557.17, "t": "H₂O 6557.17"}]},
          "mark": {"type": "text", "angle": 270, "align": "left", "baseline": "alphabetic", "dy": -4, "fontSize": 15, "color": "#222"},
          "encoding": {
            "x": {"field": "w", "type": "quantitative", "axis": null},
            "y": {"datum": 0.47, "type": "quantitative", "axis": null},
            "text": {"field": "t"}
          }
        },
        {
          "data": {"values": [{"w": 6572.07, "t": "H₂O 6572.07"}]},
          "mark": {"type": "text", "angle": 270, "align": "left", "baseline": "alphabetic", "dy": -8, "fontSize": 15, "color": "#222"},
          "encoding": {
            "x": {"field": "w", "type": "quantitative", "axis": null},
            "y": {"datum": 0.47, "type": "quantitative", "axis": null},
            "text": {"field": "t"}
          }
        },
        {
          "data": {"values": [{"w": 6553.78, "t": "H₂O 6553.78"}]},
          "mark": {"type": "text", "angle": 270, "align": "left", "baseline": "top", "dy": 6, "fontSize": 15, "color": "#222"},
          "encoding": {
            "x": {"field": "w", "type": "quantitative", "axis": null},
            "y": {"datum": 0.47, "type": "quantitative", "axis": null},
            "text": {"field": "t"}
          }
        },
        {
          "data": {"name": "dates"},
          "mark": {"type": "text", "align": "left", "baseline": "middle", "dx": 12, "fontSize": 19.5, "color": "#1a1a1a"},
          "encoding": {
            "x": {"datum": 6573.92, "type": "quantitative", "axis": null},
            "y": {"field": "v", "type": "quantitative", "axis": null},
            "text": {"field": "d"}
          }
        },
        {
          "data": {"values": [{"t": "H", "w": 6560.68, "v": 2.947}]},
          "mark": {"type": "text", "align": "center", "baseline": "alphabetic", "fontSize": 23, "color": "#1a1a1a"},
          "encoding": {
            "x": {"field": "w", "type": "quantitative", "axis": null},
            "y": {"field": "v", "type": "quantitative", "axis": null},
            "text": {"field": "t"}
          }
        },
        {
          "data": {"values": [{"t": "α", "w": 6561.38, "v": 2.911}]},
          "mark": {"type": "text", "align": "left", "baseline": "alphabetic", "fontSize": 17, "color": "#1a1a1a"},
          "encoding": {
            "x": {"field": "w", "type": "quantitative", "axis": null},
            "y": {"field": "v", "type": "quantitative", "axis": null},
            "text": {"field": "t"}
          }
        }
      ],
      "resolve": {"axis": {"x": "independent", "y": "independent"}}
    },
    {
      "width": 322,
      "height": 555,
      "layer": [
        {
          "data": {"name": "hb"},
          "mark": {"type": "line", "color": "#222", "strokeWidth": 1.1, "interpolate": "monotone", "clip": true},
          "encoding": {
            "x": {
              "field": "w", "type": "quantitative",
              "scale": {"domain": [4849.05, 4873.2], "nice": false, "zero": false},
              "axis": {
                "orient": "bottom",
                "values": [4852, 4860, 4868],
                "format": "d",
                "labelPadding": 15,
                "title": "λ , Å",
                "titleX": 297, "titleY": 30, "titleAlign": "left", "titleBaseline": "alphabetic", "titleAngle": 0
              }
            },
            "y": {
              "field": "v", "type": "quantitative",
              "scale": {"domain": [0.2324, 3.232], "nice": false, "zero": false},
              "axis": {
                "orient": "left",
                "values": [0.4, 0.6, 0.8, 1, 1.2, 1.4, 1.6, 1.8, 2, 2.2, 2.4, 2.6, 2.8],
                "labelExpr": "datum.value > 0.95 ? '1.0' : format(datum.value, '.1f')",
                "labelPadding": 10,
                "title": "I/I₀",
                "titleX": -38, "titleY": 16, "titleAlign": "left", "titleBaseline": "alphabetic", "titleAngle": 0
              }
            },
            "detail": {"field": "k", "type": "nominal"}
          }
        },
        {
          "data": {"name": "hblines"},
          "mark": {"type": "rule", "color": "#111", "strokeWidth": 1.1, "strokeDash": [6, 4]},
          "encoding": {
            "x": {"field": "w", "type": "quantitative", "axis": null},
            "y": {"datum": 2.884, "type": "quantitative", "axis": null},
            "y2": {"datum": 0.2324}
          }
        },
        {
          "data": {"name": "hbmaj"},
          "mark": {"type": "rule", "color": "#000", "strokeWidth": 2},
          "encoding": {
            "x": {"field": "w", "type": "quantitative", "axis": null},
            "y": {"datum": 0.2324, "type": "quantitative", "axis": null},
            "y2": {"datum": 0.281}
          }
        },
        {
          "data": {"name": "hbmaj"},
          "mark": {"type": "rule", "color": "#000", "strokeWidth": 2},
          "encoding": {
            "x": {"field": "w", "type": "quantitative", "axis": null},
            "y": {"datum": 3.232, "type": "quantitative", "axis": null},
            "y2": {"datum": 3.1834}
          }
        },
        {
          "data": {"name": "hbmin"},
          "mark": {"type": "rule", "color": "#000", "strokeWidth": 2},
          "encoding": {
            "x": {"field": "w", "type": "quantitative", "axis": null},
            "y": {"datum": 0.2324, "type": "quantitative", "axis": null},
            "y2": {"datum": 0.2594}
          }
        },
        {
          "data": {"name": "hbmin"},
          "mark": {"type": "rule", "color": "#000", "strokeWidth": 2},
          "encoding": {
            "x": {"field": "w", "type": "quantitative", "axis": null},
            "y": {"datum": 3.232, "type": "quantitative", "axis": null},
            "y2": {"datum": 3.205}
          }
        },
        {
          "data": {"name": "hby"},
          "mark": {"type": "rule", "color": "#000", "strokeWidth": 2},
          "encoding": {
            "y": {"field": "v", "type": "quantitative", "axis": null},
            "x": {"datum": 4849.05, "type": "quantitative", "axis": null},
            "x2": {"datum": 4849.65}
          }
        },
        {
          "data": {"name": "hby"},
          "mark": {"type": "rule", "color": "#000", "strokeWidth": 2},
          "encoding": {
            "y": {"field": "v", "type": "quantitative", "axis": null},
            "x": {"datum": 4873.2, "type": "quantitative", "axis": null},
            "x2": {"datum": 4872.6}
          }
        },
        {
          "data": {"values": [{"t": "H", "w": 4859.2, "v": 2.937}]},
          "mark": {"type": "text", "align": "center", "baseline": "alphabetic", "fontSize": 23, "color": "#1a1a1a"},
          "encoding": {
            "x": {"field": "w", "type": "quantitative", "axis": null},
            "y": {"field": "v", "type": "quantitative", "axis": null},
            "text": {"field": "t"}
          }
        },
        {
          "data": {"values": [{"t": "β", "w": 4859.85, "v": 2.914}]},
          "mark": {"type": "text", "align": "left", "baseline": "alphabetic", "fontSize": 17, "color": "#1a1a1a"},
          "encoding": {
            "x": {"field": "w", "type": "quantitative", "axis": null},
            "y": {"field": "v", "type": "quantitative", "axis": null},
            "text": {"field": "t"}
          }
        }
      ],
      "resolve": {"axis": {"x": "independent", "y": "independent"}}
    }
  ],
  "config": {
    "font": "Liberation Sans",
    "view": {"stroke": "#000", "strokeWidth": 2},
    "text": {"font": "Liberation Sans"},
    "axis": {
      "domain": false,
      "grid": false,
      "ticks": false,
      "labelFont": "Liberation Sans",
      "labelFontSize": 19.5,
      "labelColor": "#1a1a1a",
      "labelOverlap": false,
      "labelFlush": false,
      "titleFont": "Liberation Serif",
      "titleFontSize": 23,
      "titleFontWeight": "normal",
      "titleColor": "#111"
    }
  }
}
